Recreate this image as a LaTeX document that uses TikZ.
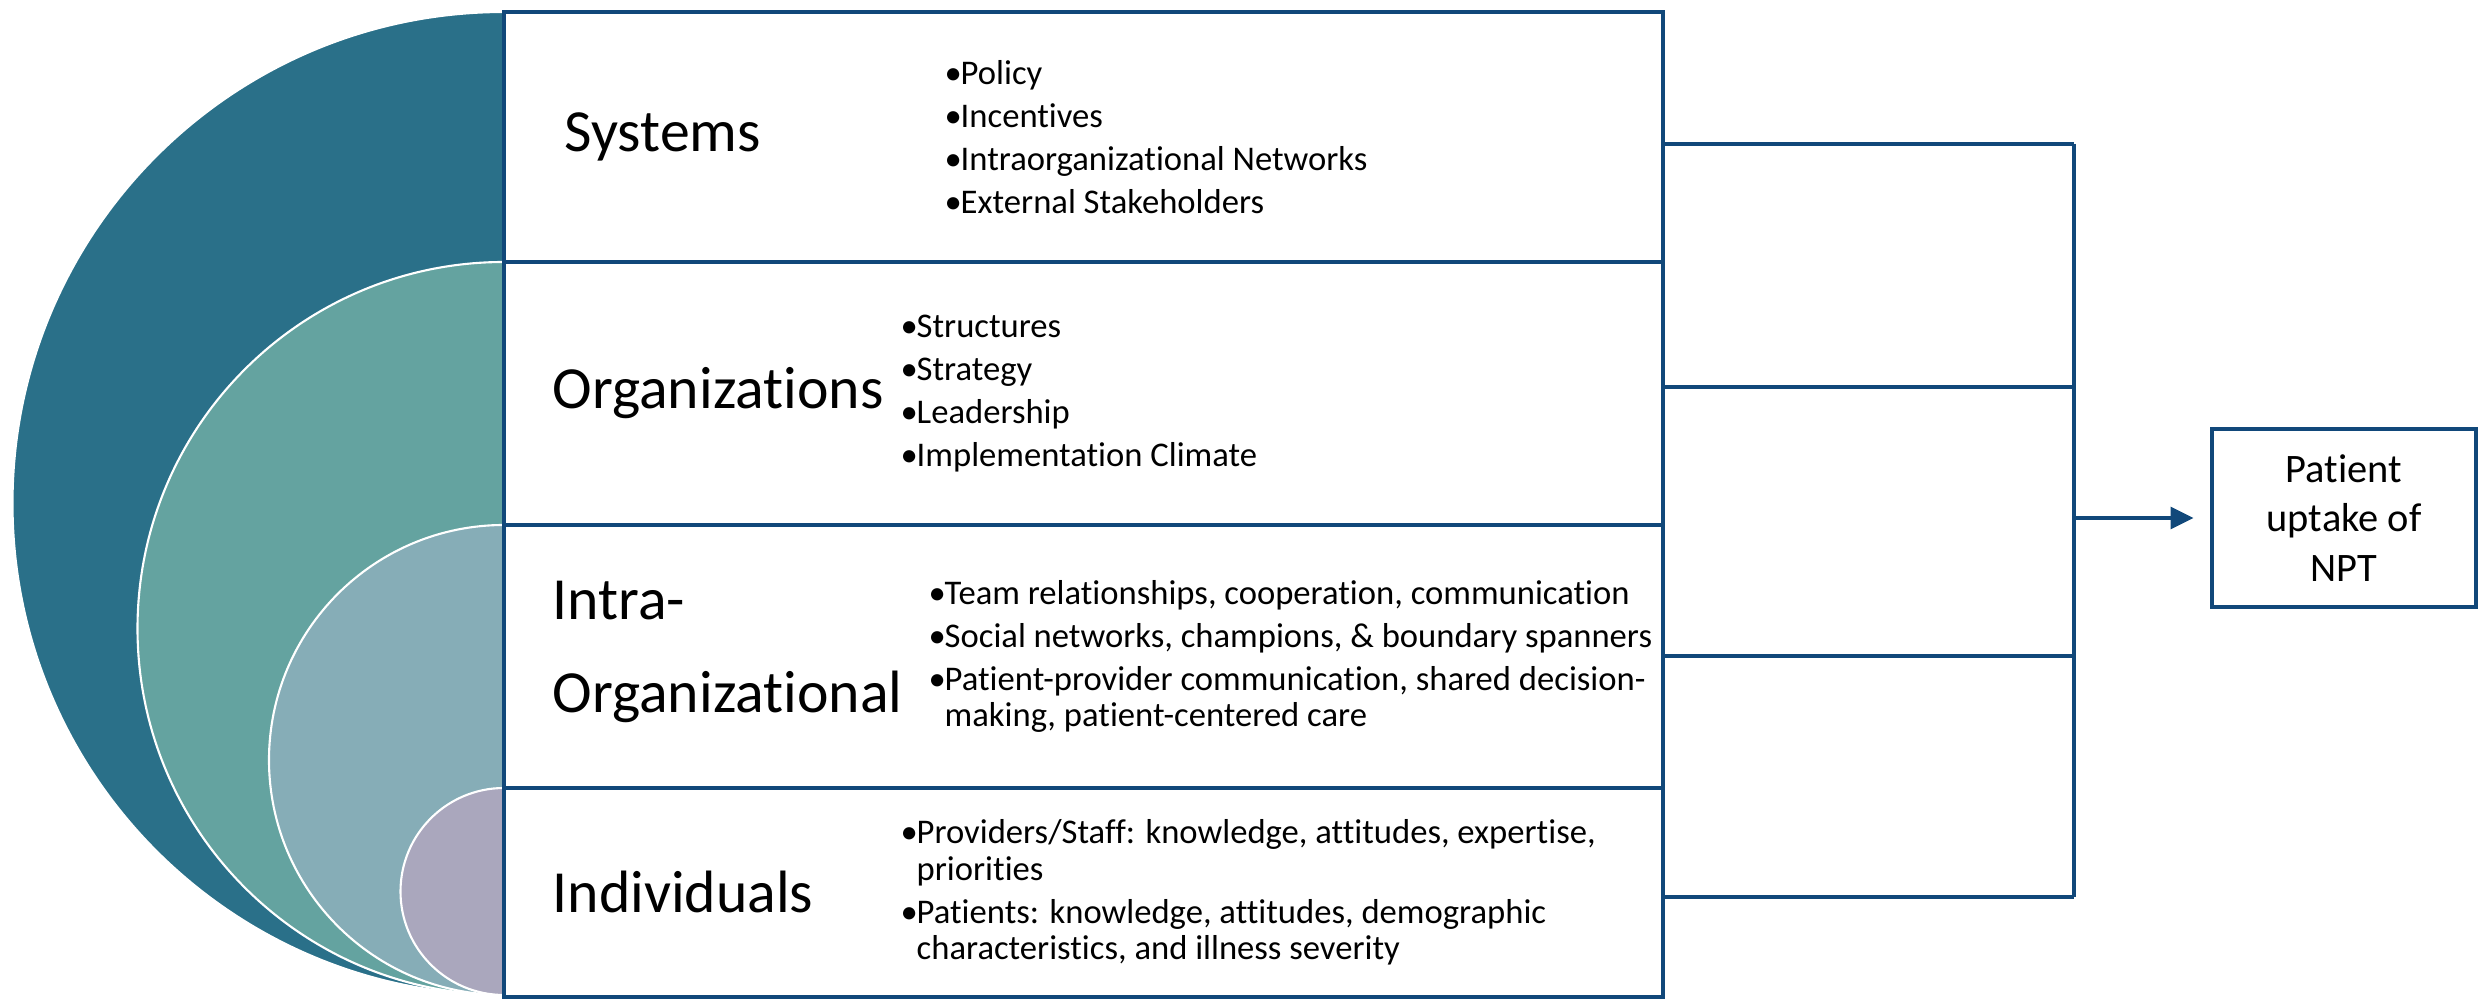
\documentclass[tikz,border=0pt]{standalone}
\usepackage{fontspec}
\setmainfont[Ligatures=NoCommon]{Carlito}
\usetikzlibrary{arrows.meta}

\definecolor{ringsys}{RGB}{42,112,137}
\definecolor{ringorg}{RGB}{100,163,160}
\definecolor{ringintra}{RGB}{134,173,183}
\definecolor{ringind}{RGB}{170,167,189}
\definecolor{edgeblue}{RGB}{17,72,122}

% bullet with hanging indent
\newcommand{\bul}{\makebox[0.16cm][l]{•}}
\newcommand{\hang}{\hspace*{0.16cm}}

\begin{document}
\begin{tikzpicture}[
    ring/.style={draw=white,line width=0.6pt},
    level/.style={draw=edgeblue,line width=0.95pt,fill=white,inner sep=0,
        minimum width=11.59cm},
    label/.style={anchor=west,inner sep=0,align=left,
        font=\fontsize{17}{20.7}\selectfont},
    items/.style={anchor=west,inner sep=0,align=left,
        font=\fontsize{9.85}{10.3}\selectfont},
    link/.style={draw=edgeblue,line width=0.9pt}]
    \useasboundingbox (0,0) rectangle (24.79,9.99);

    % nested half discs
    \filldraw[ring,fill=ringsys] (5.04,9.87) arc[start angle=90,end angle=270,radius=4.915] -- cycle;
    \filldraw[ring,fill=ringorg] (5.04,7.37) arc[start angle=90,end angle=270,radius=3.665] -- cycle;
    \filldraw[ring,fill=ringintra] (5.04,4.74) arc[start angle=90,end angle=270,radius=2.35] -- cycle;
    \filldraw[ring,fill=ringind] (5.04,2.11) arc[start angle=90,end angle=270,radius=1.035] -- cycle;

    % the four levels
    \node[level,minimum height=2.50cm] (sys) at (10.835,8.62) {};
    \node[level,minimum height=2.63cm] (org) at (10.835,6.055) {};
    \node[level,minimum height=2.63cm] (intra) at (10.835,3.425) {};
    \node[level,minimum height=2.09cm] (ind) at (10.835,1.065) {};

    \node[label] (syslbl) at (5.64,8.62) {Systems};
    \node[label] (orglbl) at (5.52,6.055) {Organizations};
    \node[label] (intralbl) at (5.52,3.47) {Intra-\\[5.5pt]Organizational};
    \node[label] (indlbl) at (5.52,1.07) {Individuals};

    \node[items] (sysitems) at (9.44,8.62) {\bul Policy\\[2pt]\bul Incentives\\[2pt]%
        \bul Intraorganizational Networks\\[2pt]\bul External Stakeholders};
    \node[items] (orgitems) at (9.00,6.055) {\bul Structures\\[2pt]\bul Strategy\\[2pt]%
        \bul Leadership\\[2pt]\bul Implementation Climate};
    \node[items] (intraitems) at (9.28,3.425) {\bul Team relationships, cooperation, communication\\[2pt]%
        \bul Social networks, champions, \& boundary spanners\\[2pt]%
        \bul Patient-provider communication, shared decision-\\\hang making, patient-centered care};
    \node[items] (inditems) at (9.00,1.065) {\bul Providers/Staff: knowledge, attitudes, expertise,\\\hang priorities\\[2pt]%
        \bul Patients: knowledge, attitudes, demographic\\\hang characteristics, and illness severity};

    % outcome
    \node[draw=edgeblue,line width=1.4pt,minimum width=2.64cm,minimum height=1.78cm,
        align=center,inner sep=0,font=\fontsize{11.5}{14}\selectfont] (npt) at (23.44,4.81)
        {Patient\\uptake of\\NPT};

    % bus on the right
    \coordinate (b1) at (20.74,8.55);
    \coordinate (b2) at (20.74,6.12);
    \coordinate (b3) at (20.74,3.43);
    \coordinate (b4) at (20.74,1.02);

    \draw[link] (b1 -| sys.east) -- (b1);
    \draw[link] (b2 -| org.east) -- (b2);
    \draw[link] (b3 -| intra.east) -- (b3);
    \draw[link] (b4 -| ind.east) -- (b4);
    \draw[link] (b1) -- (b4);
    \draw[link,-{Triangle[length=0.23cm,width=0.22cm]}] (b1 |- npt.west) -- ([xshift=-0.16cm]npt.west);
\end{tikzpicture}
\end{document}
